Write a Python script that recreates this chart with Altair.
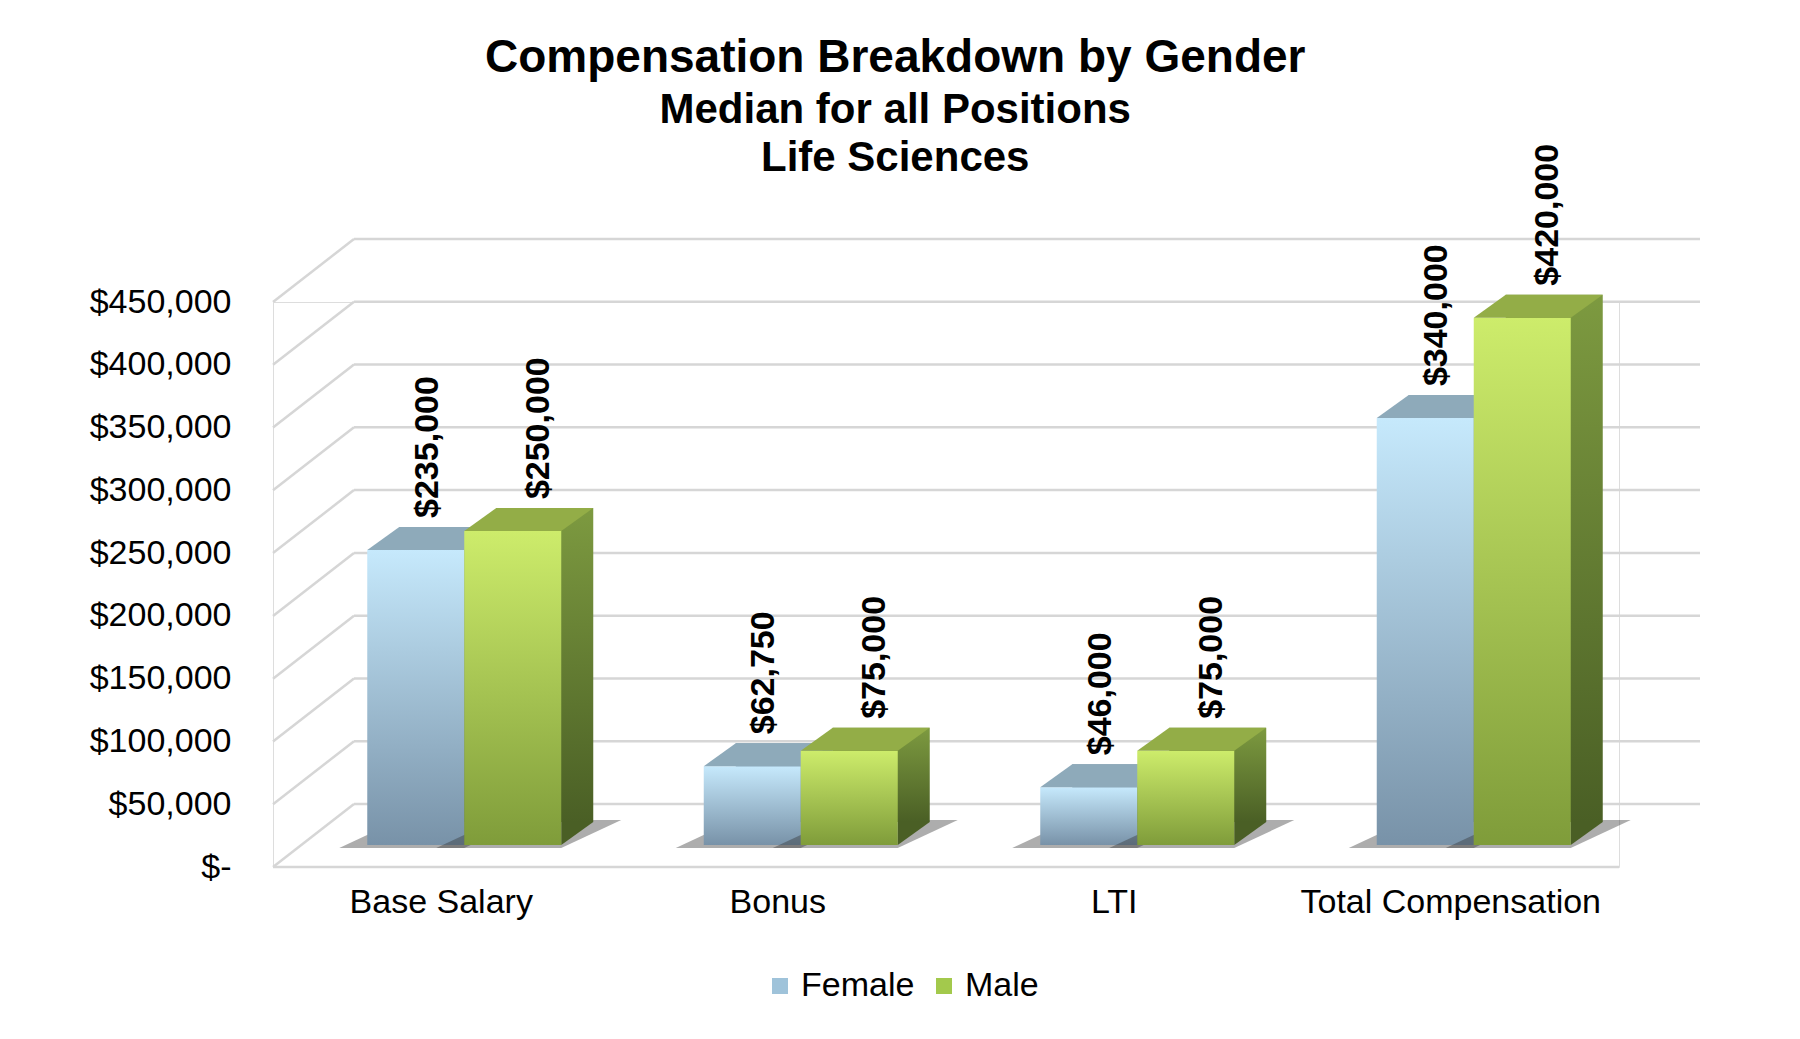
import altair as alt
import pandas as pd

# ---- data ----
categories = ["Base Salary", "Bonus", "LTI", "Total Compensation"]
female = [235000, 62750, 46000, 340000]
male = [250000, 75000, 75000, 420000]
series = ["Female", "Male"]
y_ticks = [0, 50000, 100000, 150000, 200000, 250000, 300000, 350000, 400000, 450000]

rows = []
for c, f, m in zip(categories, female, male):
    rows.append({"category": c, "gender": "Female", "value": f})
    rows.append({"category": c, "gender": "Male", "value": m})
df = pd.DataFrame(rows)
grid_df = pd.DataFrame({"tick": y_ticks})

# ---- layout / style ----
W, H = 1346, 565
BW = 97             # bar width
FDX, FDY = 23, -22  # front face shift (depth position of bars)
SDX, SDY = 32, -23  # bar depth
GDX, GDY = 81, -63  # grid wall depth
FONT = "Liberation Sans"

xscale = alt.Scale(domain=categories, paddingInner=0.427, paddingOuter=0.2135)
yscale = alt.Scale(domain=[0, 450000], nice=False, zero=True)

x_enc = alt.X("category:N", scale=xscale, sort=categories, title=None,
              axis=alt.Axis(labelAngle=0, labelFontSize=34, labelFont=FONT, labelColor="black",
                            labelPadding=18, labelLimit=0, ticks=False, domain=False, grid=False))
y_enc = alt.Y("value:Q", scale=yscale, title=None,
              axis=alt.Axis(values=y_ticks, labelFontSize=34, labelFont=FONT, labelColor="black",
                            labelPadding=42, ticks=False, domain=False, grid=False,
                            labelExpr="datum.value == 0 ? '$-' : '$' + format(datum.value, ',')"))


def grad(top, bottom):
    return alt.Gradient(gradient="linear", x1=0, x2=0, y1=0, y2=1,
                        stops=[alt.GradientStop(color=top, offset=0),
                               alt.GradientStop(color=bottom, offset=1)])


styles = {
    "Female": dict(ox=-BW / 2, lx=12, front=grad("#c6e9fc", "#7892a8"), top="#8eaaba",
                   side=grad("#7f9aab", "#566e80"), side_bottom="#566e80"),
    "Male": dict(ox=BW / 2, lx=26, front=grad("#cdec6b", "#7f9c3a"), top="#93ad47",
                 side=grad("#7d9a40", "#4a5f25"), side_bottom="#4a5f25"),
}

grid_color = "#d6d6d6"
layers = []

# 3D grid: diagonal lines, back wall lines, front floor edge
layers.append(alt.Chart(grid_df).mark_rule(color=grid_color, strokeWidth=2.5, y2Offset=GDY).encode(
    x=alt.value(0), x2=alt.value(GDX),
    y=alt.Y("tick:Q", scale=yscale, title=None), y2=alt.Y2("tick:Q")))
layers.append(alt.Chart(grid_df).mark_rule(color=grid_color, strokeWidth=2.5, yOffset=GDY).encode(
    x=alt.value(GDX), x2=alt.value(W + GDX),
    y=alt.Y("tick:Q", scale=yscale, title=None)))
layers.append(alt.Chart(grid_df[grid_df.tick == 0]).mark_rule(color=grid_color, strokeWidth=2.5).encode(
    x=alt.value(0), x2=alt.value(W),
    y=alt.Y("tick:Q", scale=yscale, title=None)))

for g in series:
    s = styles[g]
    ox = s["ox"]
    sub = df[df.gender == g]
    base = alt.Chart(sub)
    # floor shadow
    shadow_path = "M-28,3 L%g,3 L%g,%g L%g,%g Z" % (BW, BW + SDX + 28, SDY - 2, SDX, SDY - 2)
    layers.append(base.mark_point(shape=shadow_path, size=4, filled=True, color="#333333",
                                  opacity=0.4, xOffset=ox + FDX - BW / 2, yOffset=FDY).encode(
        x=x_enc, y=alt.datum(0)))
    # side / back block
    layers.append(base.mark_bar(width=BW, xOffset=ox + FDX + SDX, yOffset=FDY + SDY, y2Offset=FDY + SDY,
                                color=s["side"]).encode(x=x_enc, y=y_enc, y2=alt.datum(0)))
    # bottom triangle of side face
    layers.append(base.mark_point(shape="M0,0 L0,%g L%g,%g Z" % (SDY, SDX, SDY), size=4, filled=True,
                                  opacity=1, color=s["side_bottom"],
                                  xOffset=ox + FDX + BW / 2, yOffset=FDY).encode(x=x_enc, y=alt.datum(0)))
    # front face
    layers.append(base.mark_bar(width=BW, xOffset=ox + FDX, yOffset=FDY, y2Offset=FDY,
                                color=s["front"]).encode(x=x_enc, y=y_enc, y2=alt.datum(0)))
    # top face
    top_path = "M%g,0 L%g,0 L%g,%g L%g,%g Z" % (-BW / 2, BW / 2, BW / 2 + SDX, SDY, -BW / 2 + SDX, SDY)
    layers.append(base.mark_point(shape=top_path, size=4, filled=True, opacity=1, color=s["top"],
                                  xOffset=ox + FDX, yOffset=FDY).encode(x=x_enc, y=y_enc))

# value labels
for g in series:
    s = styles[g]
    sub = df[df.gender == g]
    layers.append(alt.Chart(sub).mark_text(angle=270, align="left", baseline="middle", font=FONT,
                                           fontWeight="bold", fontSize=34, color="black",
                                           xOffset=s["ox"] + FDX + s["lx"], yOffset=FDY - 32).encode(
        x=x_enc, y=y_enc, text=alt.Text("value:Q", format="$,.0f")))

# legend carrier (invisible points)
layers.append(alt.Chart(df).mark_point(opacity=0, filled=True).encode(
    x=x_enc, y=y_enc,
    color=alt.Color("gender:N", sort=series,
                    scale=alt.Scale(domain=series, range=["#9fc3da", "#a3c94c"]),
                    legend=alt.Legend(title=None, orient="none", direction="horizontal",
                                      legendX=490, legendY=667, symbolType="square",
                                      symbolSize=256, symbolOpacity=1, symbolStrokeWidth=0,
                                      labelFontSize=34, labelFont=FONT, labelColor="black",
                                      labelOffset=4, columnPadding=12))))

chart = alt.layer(*layers).properties(
    width=W, height=H,
    autosize=alt.AutoSizeParams(type="none"),
    padding={"left": 265, "top": 294, "right": 165, "bottom": 164},
    title=alt.TitleParams(text="Compensation Breakdown by Gender",
                          subtitle=["Median for all Positions", "Life Sciences"],
                          font=FONT, subtitleFont=FONT, fontSize=46, subtitleFontSize=42,
                          fontWeight="bold", subtitleFontWeight="bold", color="black",
                          subtitleColor="black", anchor="middle", frame="bounds",
                          offset=-36.5, subtitlePadding=8, subtitleLineHeight=48),
).configure_view(stroke=None).configure(background="white")

chart.save("out.html", embed_options={"renderer": "svg", "actions": False})
